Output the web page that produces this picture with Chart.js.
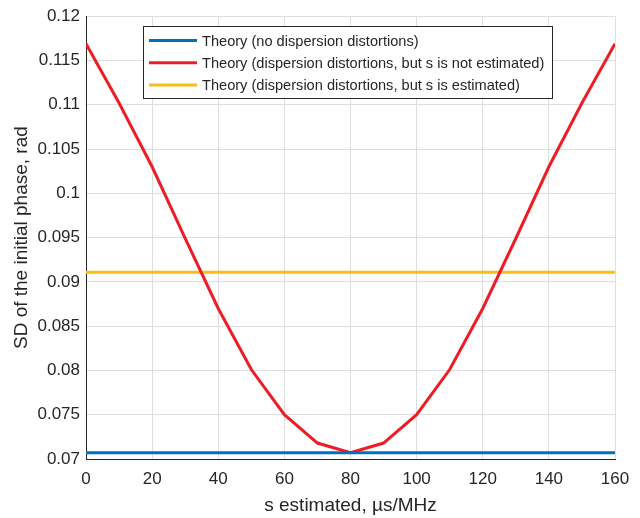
<!DOCTYPE html>
<html>
<head>
<meta charset="utf-8">
<script src="https://cdn.jsdelivr.net/npm/chart.js@4.4.1/dist/chart.umd.min.js"></script>
<style>
  html, body { margin: 0; padding: 0; background: #fff; }
  #wrap { width: 640px; height: 518px; }
</style>
</head>
<body>
<div id="wrap"><canvas id="sdChart" width="640" height="518"></canvas></div>
<script>
/*  data
-------------------------------------------------------*/
var sEstimated = [0, 10, 20, 30, 40, 50, 60, 70, 80, 90, 100, 110, 120, 130, 140, 150, 160];
var noDispersion = 0.0707;
var notEstimated = [0.1169, 0.1102, 0.1030, 0.0949, 0.0870, 0.0801, 0.0750, 0.0718, 0.0707,
                    0.0718, 0.0750, 0.0801, 0.0870, 0.0949, 0.1030, 0.1102, 0.1169];
var estimated = 0.0911;
var seriesLabels = [
  'Theory (no dispersion distortions)',
  'Theory (dispersion distortions, but s is not estimated)',
  'Theory (dispersion distortions, but s is estimated)'
];
var seriesColors = ['#0072BD', '#EE1C25', '#FBBC14'];

function pts(ys) {
  return sEstimated.map(function (x, i) { return { x: x, y: Array.isArray(ys) ? ys[i] : ys }; });
}

var FONT = '"Liberation Sans", Arial, sans-serif';
var TXT = '#262626';

/*  legend box drawn inside the plot (MATLAB style)
-------------------------------------------------------*/
var boxLegend = {
  id: 'boxLegend',
  afterDatasetsDraw: function (chart) {
    var c = chart.ctx;
    var x0 = 143, y0 = 26, w = 409, h = 72;
    c.save();
    c.fillStyle = '#fff';
    c.fillRect(x0, y0, w, h);
    c.strokeStyle = '#262626';
    c.lineWidth = 1;
    c.strokeRect(x0 + 0.5, y0 + 0.5, w, h);
    c.font = '14.6px ' + FONT;
    c.textBaseline = 'middle';
    chart.data.datasets.forEach(function (ds, i) {
      var y = y0 + 14.5 + i * 22.3;
      c.strokeStyle = ds.borderColor;
      c.lineWidth = 3;
      c.beginPath();
      c.moveTo(x0 + 6, y);
      c.lineTo(x0 + 54, y);
      c.stroke();
      c.fillStyle = TXT;
      c.fillText(ds.label, x0 + 59, y + 1);
    });
    c.restore();
  }
};

var ctx = document.getElementById('sdChart');
var sdChart = new Chart(ctx, {
  type: 'line',
  data: {
    datasets: [
      { label: seriesLabels[0], data: pts(noDispersion), borderColor: seriesColors[0], borderWidth: 3 },
      { label: seriesLabels[1], data: pts(notEstimated), borderColor: seriesColors[1], borderWidth: 3 },
      { label: seriesLabels[2], data: pts(estimated), borderColor: seriesColors[2], borderWidth: 3 }
    ]
  },
  options: {
    responsive: false,
    animation: false,
    layout: { padding: { left: 0, right: 25, top: 14, bottom: 0 } },
    elements: {
      point: { radius: 0 },
      line: { tension: 0, fill: false }
    },
    plugins: {
      legend: { display: false },
      tooltip: { enabled: false }
    },
    scales: {
      x: {
        type: 'linear',
        min: 0, max: 160,
        ticks: { stepSize: 20, color: TXT, font: { family: FONT, size: 17 }, padding: 10, maxRotation: 0 },
        grid: { color: '#dedede', lineWidth: 1, drawTicks: false },
        border: { color: '#262626', width: 1 },
        title: { display: true, text: 's estimated, µs/MHz', color: TXT, font: { family: FONT, size: 19 }, padding: { top: 0, bottom: 1 } },
        afterFit: function (s) { s.height = 59; }
      },
      y: {
        min: 0.07, max: 0.12,
        ticks: {
          stepSize: 0.005, color: TXT, font: { family: FONT, size: 17 }, padding: 6,
          callback: function (v) { return String(+v.toFixed(3)); }
        },
        grid: { color: '#dedede', lineWidth: 1, drawTicks: false },
        border: { color: '#262626', width: 1 },
        title: { display: true, text: 'SD of the initial phase, rad', color: TXT, font: { family: FONT, size: 19 }, padding: { top: 10, bottom: 0 } },
        afterFit: function (s) { s.width = 86; }
      }
    }
  },
  plugins: [boxLegend]
});
</script>
</body>
</html>
